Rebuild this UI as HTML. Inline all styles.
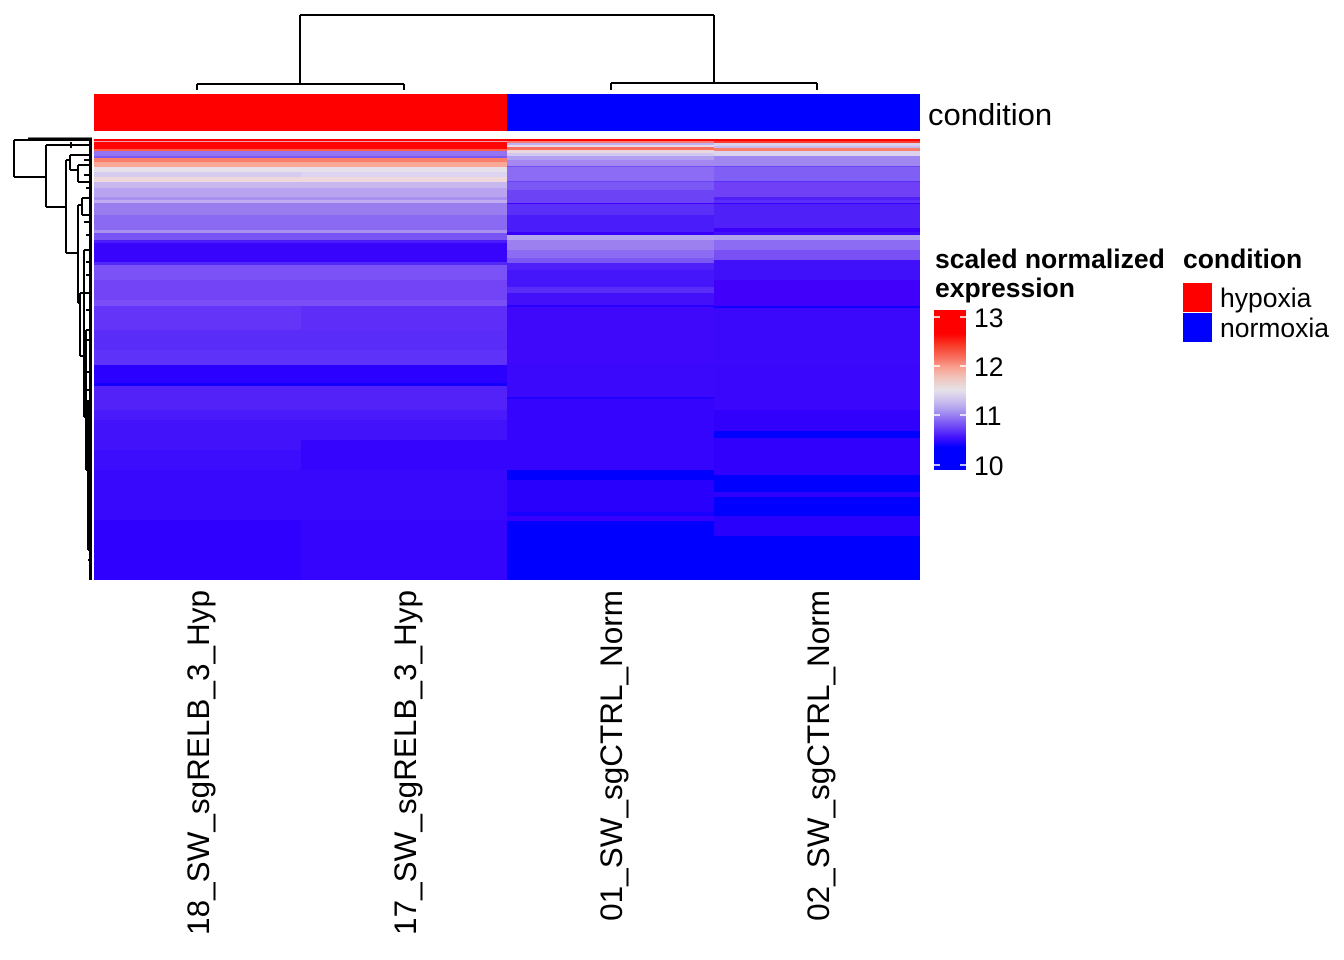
<!DOCTYPE html>
<html><head><meta charset="utf-8"><style>
html,body{margin:0;padding:0;background:#fff;}
svg{display:block;}
text{font-family:"Liberation Sans",Arial,sans-serif;fill:#000;}
</style></head><body>
<svg width="1344" height="960" viewBox="0 0 1344 960" xmlns="http://www.w3.org/2000/svg">
<defs>
<linearGradient id="cb" x1="0" y1="0" x2="0" y2="1">
<stop offset="0" stop-color="#ff0000"/>
<stop offset="0.15" stop-color="#ff0000"/>
<stop offset="0.22" stop-color="#f83a28"/>
<stop offset="0.30" stop-color="#f87060"/>
<stop offset="0.36" stop-color="#f9a090"/>
<stop offset="0.43" stop-color="#f0c8c0"/>
<stop offset="0.50" stop-color="#e6e2e8"/>
<stop offset="0.56" stop-color="#cfc4ee"/>
<stop offset="0.62" stop-color="#b0a0f0"/>
<stop offset="0.68" stop-color="#8c70f2"/>
<stop offset="0.74" stop-color="#6840f6"/>
<stop offset="0.80" stop-color="#4010fc"/>
<stop offset="0.86" stop-color="#0000ff"/>
<stop offset="1" stop-color="#0000ff"/>
</linearGradient>
</defs>

<!-- column dendrogram -->
<g stroke="#000" stroke-width="2" fill="none">
<path d="M300,15 H714 M300,15 V84 M714,15 V83 M197,84 H404 M197,84 V90 M404,84 V90 M611,83 H817 M611,83 V90 M817,83 V90"/>
</g>

<!-- annotation bar -->
<rect x="94" y="94" width="413" height="37" fill="#ff0000"/>
<rect x="507" y="94" width="413" height="37" fill="#0000ff"/>
<text x="928" y="125" font-size="31">condition</text>

<!-- hypoxia columns (1 & 2) -->
<g>
<rect x="94" y="139" width="413" height="2" fill="#ff0000"/>
<rect x="94" y="141" width="413" height="1" fill="#f4a0b0"/>
<rect x="94" y="142" width="413" height="7" fill="#ff0505"/>
<rect x="94" y="149" width="413" height="2" fill="#f8604c"/>
<rect x="94" y="151" width="413" height="5" fill="#9474f0"/>
<rect x="94" y="156" width="413" height="2" fill="#7c5af2"/>
<rect x="94" y="158" width="413" height="4" fill="#f8806c"/>
<rect x="94" y="162" width="413" height="5" fill="#f9a898"/>
<rect x="94" y="167" width="413" height="5" fill="#e6e0ea"/>
<rect x="94" y="172" width="413" height="5" fill="#d6ccf0"/>
<rect x="94" y="177" width="413" height="5" fill="#eed8dc"/>
<rect x="94" y="182" width="413" height="6" fill="#c8b8f0"/>
<rect x="94" y="188" width="413" height="9" fill="#b8a4f0"/>
<rect x="94" y="197" width="413" height="3" fill="#a890f0"/>
<rect x="94" y="200" width="413" height="3" fill="#c0acf0"/>
<rect x="94" y="203" width="413" height="12" fill="#9a7ef0"/>
<rect x="94" y="215" width="413" height="15" fill="#8a6af2"/>
<rect x="94" y="230" width="413" height="3" fill="#a690f0"/>
<rect x="94" y="233" width="413" height="7" fill="#7854f4"/>
<rect x="94" y="240" width="413" height="3" fill="#4c1cf8"/>
<rect x="94" y="243" width="413" height="19" fill="#3804fc"/>
<rect x="94" y="262" width="413" height="3" fill="#5028f8"/>
<rect x="94" y="265" width="413" height="15" fill="#7a52f6"/>
<rect x="94" y="280" width="413" height="20" fill="#7244f6"/>
<rect x="94" y="300" width="413" height="6" fill="#7a50f6"/>
<rect x="94" y="306" width="413" height="24" fill="#6434f8"/>
<rect x="94" y="330" width="413" height="20" fill="#5a2cf8"/>
<rect x="94" y="350" width="413" height="15" fill="#5e32f8"/>
<rect x="94" y="365" width="413" height="18" fill="#2c00ff"/>
<rect x="94" y="383" width="413" height="3" fill="#1400ff"/>
<rect x="94" y="386" width="413" height="24" fill="#5222f8"/>
<rect x="94" y="410" width="413" height="10" fill="#4a1afa"/>
<rect x="94" y="420" width="413" height="30" fill="#4212fa"/>
<rect x="94" y="450" width="413" height="20" fill="#3c0cfc"/>
<rect x="94" y="470" width="413" height="50" fill="#3808fc"/>
<rect x="94" y="520" width="413" height="60" fill="#3000fe"/>
<!-- col 2 tweaks -->
<rect x="301" y="172" width="206" height="5" fill="#dcd4f0"/>
<rect x="301" y="306" width="206" height="24" fill="#5e2ef8"/>
<rect x="301" y="440" width="206" height="30" fill="#3404fc"/>
<rect x="301" y="520" width="206" height="60" fill="#3404fc"/>
</g>

<!-- normoxia column 3 -->
<g>
<rect x="507" y="139" width="207" height="2" fill="#ff0000"/>
<rect x="507" y="141" width="207" height="2" fill="#f87a70"/>
<rect x="507" y="143" width="207" height="2" fill="#c0b0f0"/>
<rect x="507" y="145" width="207" height="2" fill="#e8d8e8"/>
<rect x="507" y="147" width="207" height="3" fill="#f87060"/>
<rect x="507" y="150" width="207" height="3" fill="#ecd8dc"/>
<rect x="507" y="153" width="207" height="3" fill="#d0c8f0"/>
<rect x="507" y="156" width="207" height="4" fill="#b4a0f0"/>
<rect x="507" y="160" width="207" height="6" fill="#a488f0"/>
<rect x="507" y="166" width="207" height="1" fill="#7050f4"/>
<rect x="507" y="167" width="207" height="14" fill="#8c6cf4"/>
<rect x="507" y="181" width="207" height="1" fill="#6a44f6"/>
<rect x="507" y="182" width="207" height="8" fill="#7a58f4"/>
<rect x="507" y="190" width="207" height="13" fill="#6c44f6"/>
<rect x="507" y="203" width="207" height="1" fill="#4000fc"/>
<rect x="507" y="204" width="207" height="11" fill="#5a30f8"/>
<rect x="507" y="215" width="207" height="17" fill="#4a1cfa"/>
<rect x="507" y="232" width="207" height="3" fill="#3800fc"/>
<rect x="507" y="235" width="207" height="5" fill="#b4a4f0"/>
<rect x="507" y="240" width="207" height="10" fill="#9c80f0"/>
<rect x="507" y="250" width="207" height="8" fill="#8c6cf2"/>
<rect x="507" y="258" width="207" height="5" fill="#7a58f4"/>
<rect x="507" y="263" width="207" height="7" fill="#5020f8"/>
<rect x="507" y="270" width="207" height="17" fill="#4616fa"/>
<rect x="507" y="287" width="207" height="6" fill="#5a2cf8"/>
<rect x="507" y="293" width="207" height="12" fill="#4410fa"/>
<rect x="507" y="305" width="207" height="2" fill="#2800ff"/>
<rect x="507" y="307" width="207" height="56" fill="#4008fa"/>
<rect x="507" y="363" width="207" height="34" fill="#3c08fc"/>
<rect x="507" y="397" width="207" height="2" fill="#2000ff"/>
<rect x="507" y="399" width="207" height="71" fill="#3404fc"/>
<rect x="507" y="470" width="207" height="10" fill="#0000ff"/>
<rect x="507" y="480" width="207" height="32" fill="#2800fc"/>
<rect x="507" y="512" width="207" height="4" fill="#1800ff"/>
<rect x="507" y="516" width="207" height="5" fill="#3800fc"/>
<rect x="507" y="521" width="207" height="59" fill="#0000ff"/>
</g>

<!-- normoxia column 4 -->
<g>
<rect x="714" y="139" width="206" height="2" fill="#ff0000"/>
<rect x="714" y="141" width="206" height="2" fill="#f83a30"/>
<rect x="714" y="143" width="206" height="3" fill="#dcd0ec"/>
<rect x="714" y="146" width="206" height="2" fill="#c8b8f0"/>
<rect x="714" y="148" width="206" height="3" fill="#f88070"/>
<rect x="714" y="151" width="206" height="5" fill="#dcd4ee"/>
<rect x="714" y="156" width="206" height="10" fill="#a088f0"/>
<rect x="714" y="166" width="206" height="1" fill="#6a44f6"/>
<rect x="714" y="167" width="206" height="14" fill="#8060f4"/>
<rect x="714" y="181" width="206" height="1" fill="#5a30f8"/>
<rect x="714" y="182" width="206" height="15" fill="#7040f6"/>
<rect x="714" y="197" width="206" height="3" fill="#5020f8"/>
<rect x="714" y="200" width="206" height="3" fill="#5a30f8"/>
<rect x="714" y="203" width="206" height="1" fill="#3800fc"/>
<rect x="714" y="204" width="206" height="24" fill="#5020f8"/>
<rect x="714" y="228" width="206" height="4" fill="#3a00fc"/>
<rect x="714" y="232" width="206" height="3" fill="#4010fa"/>
<rect x="714" y="235" width="206" height="5" fill="#b0a0f0"/>
<rect x="714" y="240" width="206" height="10" fill="#8c6cf2"/>
<rect x="714" y="250" width="206" height="10" fill="#7850f4"/>
<rect x="714" y="260" width="206" height="20" fill="#4010fa"/>
<rect x="714" y="280" width="206" height="26" fill="#4000fa"/>
<rect x="714" y="306" width="206" height="2" fill="#1000ff"/>
<rect x="714" y="308" width="206" height="57" fill="#3c08fc"/>
<rect x="714" y="365" width="206" height="45" fill="#3a06fc"/>
<rect x="714" y="410" width="206" height="21" fill="#3000fc"/>
<rect x="714" y="431" width="206" height="7" fill="#0000ff"/>
<rect x="714" y="438" width="206" height="37" fill="#3000fc"/>
<rect x="714" y="475" width="206" height="17" fill="#0000ff"/>
<rect x="714" y="492" width="206" height="5" fill="#3000fc"/>
<rect x="714" y="497" width="206" height="19" fill="#0000ff"/>
<rect x="714" y="516" width="206" height="20" fill="#2800fc"/>
<rect x="714" y="536" width="206" height="44" fill="#0000ff"/>
</g>

<!-- row dendrogram -->
<rect x="89" y="139" width="3" height="441" fill="#000"/>
<g stroke="#000" stroke-width="2" fill="none">
<path d="M14,140 V177 M14,140 H92 M28,138.5 H92 M14,177 H46 M46,145 V207 M46,145 H92 M71,142 V148
M46,207 H66 M66,160 V253 M66,160 H70 M70,155 V170 M70,155 H92 M70,170 H78 M78,165 V182 M78,165 H92 M78,182 H92
M66,253 H78 M78,205 V303 M78,205 H82 M82,198 V215 M82,198 H92 M82,215 H92
M78,303 H80 M80,293 V356 M80,293 H92 M80,356 H84 M84,250 V417 M84,250 H92 M84,417 H86
M86,330 V470 M86,330 H92 M86,470 H88 M88,400 V550 M88,550 H90 M90,500 V580
M84,160 H92 M84,175 H92 M86,188 H92 M84,222 H92 M86,235 H92 M86,262 H92 M86,275 H92
M86,310 H92 M86,340 H92 M86,372 H92 M86,390 H92 M88,430 H92 M88,445 H92 M88,485 H92 M88,520 H92 M88,560 H92"/>
</g>

<!-- colorbar legend -->
<text x="935" y="268" font-size="26.5" font-weight="bold">scaled normalized</text>
<text x="935" y="297" font-size="26.5" font-weight="bold">expression</text>
<rect x="934" y="310" width="32" height="160" fill="url(#cb)"/>
<g stroke="#fff" stroke-width="1.5">
<path d="M934,317 H940 M960,317 H966 M934,366 H940 M960,366 H966 M934,415 H940 M960,415 H966 M934,465 H940 M960,465 H966"/>
</g>
<text x="974" y="327" font-size="26.5">13</text>
<text x="974" y="376" font-size="26.5">12</text>
<text x="974" y="425" font-size="26.5">11</text>
<text x="974" y="475" font-size="26.5">10</text>

<!-- condition legend -->
<text x="1183" y="268" font-size="26.5" font-weight="bold">condition</text>
<rect x="1183" y="283" width="29" height="29" fill="#ff0000"/>
<rect x="1183" y="313" width="29" height="29" fill="#0000ff"/>
<text x="1220" y="307" font-size="26.5">hypoxia</text>
<text x="1220" y="337" font-size="26.5">normoxia</text>

<!-- column labels -->
<text transform="translate(209,590) rotate(-90)" text-anchor="end" font-size="31.5">18_SW_sgRELB_3_Hyp</text>
<text transform="translate(416,590) rotate(-90)" text-anchor="end" font-size="31.5">17_SW_sgRELB_3_Hyp</text>
<text transform="translate(622,590) rotate(-90)" text-anchor="end" font-size="31.5">01_SW_sgCTRL_Norm</text>
<text transform="translate(829,590) rotate(-90)" text-anchor="end" font-size="31.5">02_SW_sgCTRL_Norm</text>
</svg>
</body></html>
